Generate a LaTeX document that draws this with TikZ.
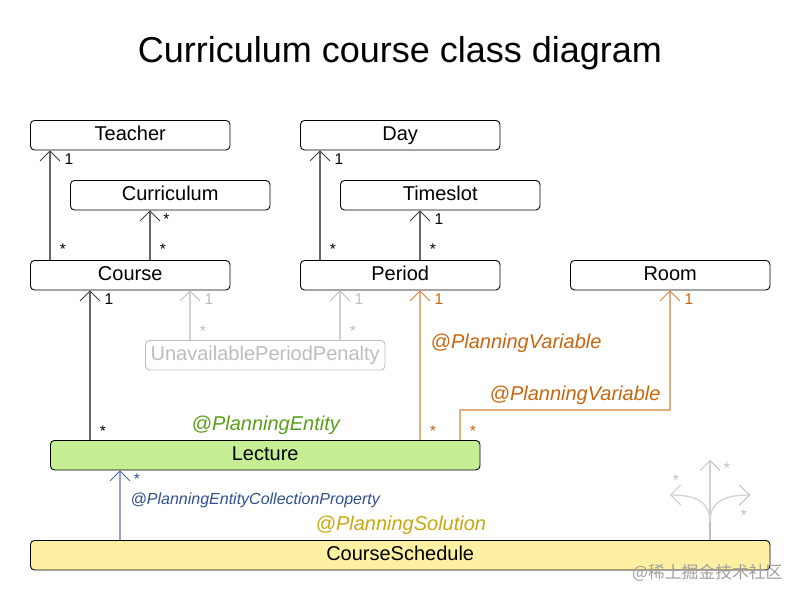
\documentclass[tikz,border=0pt]{standalone}
\usepackage{fontspec}
\setmainfont{Liberation Sans}
\newfontfamily\cjkwm{Noto Sans CJK SC}
\usetikzlibrary{arrows.meta}
\definecolor{ink}{HTML}{000000}
\definecolor{lineink}{HTML}{666666}
\definecolor{ghost}{HTML}{BDBDBD}
\definecolor{ghostline}{HTML}{D2D2D2}
\definecolor{orangeink}{HTML}{C9650F}
\definecolor{orangeline}{HTML}{E0AE80}
\definecolor{greenink}{HTML}{5A9E1B}
\definecolor{yellowink}{HTML}{C8A80E}
\definecolor{blueink}{HTML}{2F4F8F}
\definecolor{blueline}{HTML}{93A3C3}
\definecolor{lecturefill}{HTML}{C5EE95}
\definecolor{schedfill}{HTML}{FDF0A2}
\tikzset{
  cls/.style={draw=ink,line width=0.9pt,rounded corners=4pt,inner sep=0pt,minimum height=29.5pt,
    text height=13pt,text depth=2pt,anchor=north west,fill=white,
    font=\fontsize{20}{24}\selectfont},
  ghostcls/.style={cls,draw=ghost,text=ghost},
  rel/.style={line width=1.3pt,draw=lineink,line join=miter},
  hd/.style={-{Straight Barb[length=10pt,width=20pt,line width=0.8pt,color=#1]}},
  hd/.default=black!75,
  ghostrel/.style={rel,draw=ghostline},
  orangerel/.style={rel,draw=orangeline},
  bluerel/.style={rel,draw=blueline},
  mult/.style={inner sep=0pt,anchor=base,font=\fontsize{15.5}{18}\selectfont},
  ann/.style={inner sep=0pt,anchor=base west,font=\fontsize{20}{24}\selectfont\itshape},
}
\begin{document}
\begin{tikzpicture}[x=1pt,y=-1pt]
\useasboundingbox (0,0) rectangle (800,600);
\node[inner sep=0pt,anchor=base,font=\fontsize{36}{42}\selectfont] (title) at (400,62.5) {Curriculum course class diagram};

\node[cls,minimum width=199.5pt] (teacher) at (30,120) {Teacher};
\node[cls,minimum width=199.5pt] (curriculum) at (70,180) {Curriculum};
\node[cls,minimum width=199.5pt] (course) at (30,260) {Course};
\node[cls,minimum width=199.5pt] (day) at (300,120) {Day};
\node[cls,minimum width=199.5pt] (timeslot) at (340,180) {Timeslot};
\node[cls,minimum width=199.5pt] (period) at (300,260) {Period};
\node[cls,minimum width=199.5pt] (room) at (570,260) {Room};
\node[ghostcls,minimum width=239.5pt] (penalty) at (145,340) {UnavailablePeriodPenalty};
\node[cls,minimum width=429.5pt,fill=lecturefill] (lecture) at (50,440) {Lecture};
\node[cls,minimum width=739.5pt,fill=schedfill] (schedule) at (30,540) {CourseSchedule};

% black relations
\draw[rel,hd] ([xshift=20pt]course.north west) -- ([xshift=20pt]teacher.south west);
\draw[rel,hd] ([xshift=120pt]course.north west) -- ([xshift=80pt]curriculum.south west);
\draw[rel,hd] ([xshift=20pt]period.north west) -- ([xshift=20pt]day.south west);
\draw[rel,hd] ([xshift=120pt]period.north west) -- ([xshift=80pt]timeslot.south west);
\draw[rel,hd] ([xshift=40pt]lecture.north west) -- ([xshift=60pt]course.south west);
% ghost relations
\draw[ghostrel,hd=ghost] ([xshift=45pt]penalty.north west) -- ([xshift=160pt]course.south west);
\draw[ghostrel,hd=ghost] ([xshift=195pt]penalty.north west) -- ([xshift=40pt]period.south west);
% planning variables
\draw[orangerel,hd=orangeink!80] ([xshift=370pt]lecture.north west) -- ([xshift=120pt]period.south west);
\coordinate (bendl) at (460,410);
\coordinate (bendr) at (670,410);
\draw[orangerel,hd=orangeink!80] ([xshift=410pt]lecture.north west) -- (bendl) -- (bendr) -- ([xshift=100pt]room.south west);
% collection property
\draw[bluerel,hd=blueink!85] ([xshift=90pt]schedule.north west) -- ([xshift=70pt]lecture.south west);

% legend-like tree
\coordinate (treetop) at (710,460);
\coordinate (treeleft) at (670,495);
\coordinate (treeright) at (750,495);
\coordinate (treefork) at (710,522);
\draw[ghostrel,draw=ghost] ([xshift=680pt]schedule.north west) -- (treefork);
\draw[ghostrel,hd=ghost] (treefork) -- (treetop);
\draw[ghostrel,hd=ghost] (treefork) .. controls (710,503) and (698,495) .. (treeleft);
\draw[ghostrel,hd=ghost] (treefork) .. controls (710,503) and (722,495) .. (treeright);

% multiplicities
\node[mult] (m1) at (69,164.5) {1};
\node[mult] (m2) at (63,254) {*};
\node[mult] (m3) at (166.5,224) {*};
\node[mult] (m4) at (163,254) {*};
\node[mult] (m5) at (339,164.5) {1};
\node[mult] (m6) at (333,254) {*};
\node[mult] (m7) at (439,224.5) {1};
\node[mult] (m8) at (433,254) {*};
\node[mult] (m9) at (109,304.5) {1};
\node[mult] (m10) at (103,436) {*};
\node[mult,text=ghost] (m11) at (209,304.5) {1};
\node[mult,text=ghost] (m12) at (203,336) {*};
\node[mult,text=ghost] (m13) at (359,304.5) {1};
\node[mult,text=ghost] (m14) at (353,336) {*};
\node[mult,text=orangeink] (m15) at (439,304.5) {1};
\node[mult,text=orangeink] (m16) at (433,436) {*};
\node[mult,text=orangeink] (m17) at (689,304.5) {1};
\node[mult,text=orangeink] (m18) at (473,436) {*};
\node[mult,text=blueink] (m19) at (137,484) {*};
\node[mult,text=ghost] (m20) at (676,485) {*};
\node[mult,text=ghost] (m21) at (727,473) {*};
\node[mult,text=ghost] (m22) at (744,520) {*};

% annotations
\node[ann,text=orangeink] (a1) at (430.5,348) {@PlanningVariable};
\node[ann,text=orangeink] (a2) at (489.5,400) {@PlanningVariable};
\node[ann,text=greenink] (a3) at (191.5,430) {@PlanningEntity};
\node[ann,text=yellowink] (a4) at (315.5,530) {@PlanningSolution};
\node[ann,text=blueink,font=\fontsize{16}{18}\selectfont\itshape] (a5) at (130.5,504) {@PlanningEntityCollectionProperty};
% watermark
\node[inner sep=0pt,anchor=base west,text=black!38,font=\fontsize{16.8}{20}\cjkwm] (wm) at (632,578) {@稀土掘金技术社区};
\end{tikzpicture}
\end{document}
